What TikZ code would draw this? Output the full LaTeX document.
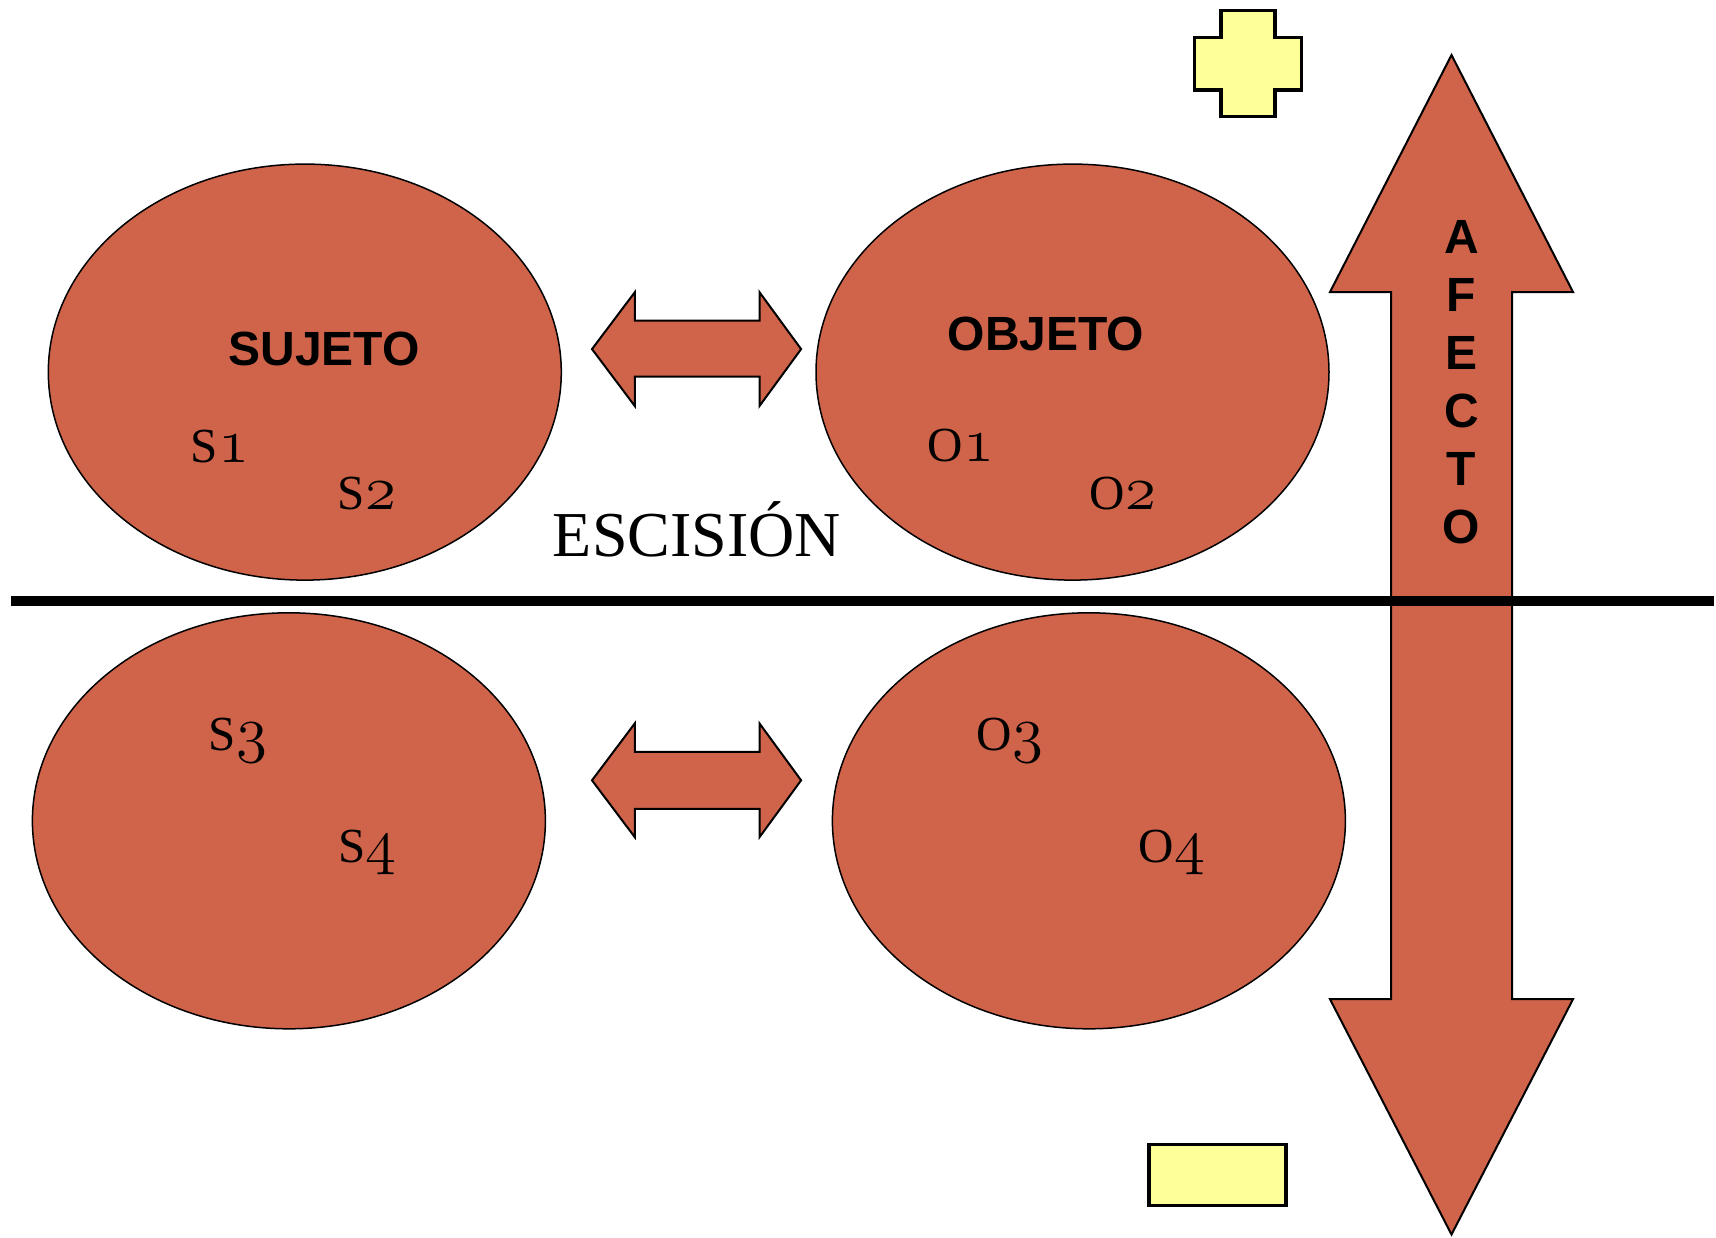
\documentclass[tikz,border=0pt]{standalone}
\usepackage{fontspec}
\setmainfont{Liberation Serif}
\newfontfamily\headfont{Liberation Sans}
\usetikzlibrary{shapes.geometric}
\definecolor{clay}{RGB}{208,100,74}
\definecolor{paleyellow}{RGB}{255,255,153}
% old-style figures of the Computer Modern math italic font
\font\osfdigits=cmmi12 at 63pt
\newcommand\osfig[1]{{\osfdigits #1}}
\tikzset{
  blob/.style={ellipse, draw=black, line width=1.5pt, fill=clay, inner sep=0pt,
               minimum width=513pt, minimum height=416pt},
  blockarrow/.style={draw=black, line width=2pt, fill=clay, line join=miter},
  signbox/.style={draw=black, line width=3.5pt, fill=paleyellow, line join=miter},
  title/.style={font=\headfont\bfseries\fontsize{48}{50}\selectfont, anchor=base, inner sep=0pt},
  tag/.style={font=\rmfamily\fontsize{49}{51}\selectfont, anchor=base, inner sep=0pt},
  letter/.style={font=\headfont\bfseries\fontsize{48}{50}\selectfont, anchor=base, inner sep=0pt},
}
\begin{document}
\begin{tikzpicture}[x=1pt, y=-1pt]
\useasboundingbox (0,0) rectangle (1716,1237);

% the four ellipses
\node[blob] (suj) at (304.8,372.1) {};
\node[blob] (obj) at (1072.5,372.1) {};
\node[blob] (sujb) at (288.9,820.8) {};
\node[blob] (objb) at (1088.9,820.8) {};

% double block arrows between subject and object
\draw[blockarrow] (592,349.1) -- (634.8,292.2) -- (634.8,320.7) -- (759.5,320.7)
  -- (759.5,292.2) -- (801.1,349.1) -- (759.5,406) -- (759.5,376.5)
  -- (634.8,376.5) -- (634.8,406) -- cycle;
\draw[blockarrow] (592,780.3) -- (634.8,723.4) -- (634.8,751.9) -- (759.5,751.9)
  -- (759.5,723.4) -- (801.1,780.3) -- (759.5,837.2) -- (759.5,808.8)
  -- (634.8,808.8) -- (634.8,837.2) -- cycle;

% vertical double block arrow
\draw[blockarrow] (1451.5,55) -- (1573,292) -- (1512,292) -- (1512,999.2)
  -- (1573,999.2) -- (1451.5,1234.5) -- (1330,999.2) -- (1391,999.2)
  -- (1391,292) -- (1330,292) -- cycle;

% splitting line
\coordinate (cutL) at (10.5,600.5);
\coordinate (cutR) at (1714,600.5);
\draw[line width=10pt] (cutL) -- (cutR);

% plus and minus signs
\draw[signbox] (1221,10.7) -- (1275,10.7) -- (1275,37.3) -- (1301.7,37.3)
  -- (1301.7,90) -- (1275,90) -- (1275,116.7) -- (1221,116.7) -- (1221,90)
  -- (1194.3,90) -- (1194.3,37.3) -- (1221,37.3) -- cycle;
\draw[signbox] (1149,1144.7) rectangle (1286,1205.7);

% labels
\node[title] (tsuj) at (324,365) {SUJETO};
\node[title] (tobj) at (1046,350) {OBJETO};
\node[tag] (s1) at (220,462) {S\osfig{1}};
\node[tag] (s2) at (367,509) {S\osfig{2}};
\node[tag] (o1) at (961,461) {O\osfig{1}};
\node[tag] (o2) at (1123,509) {O\osfig{2}};
\node[tag] (s3) at (238,750) {S\osfig{3}};
\node[tag] (s4) at (367.5,862) {S\osfig{4}};
\node[tag] (o3) at (1010,750) {O\osfig{3}};
\node[tag] (o4) at (1172,862) {O\osfig{4}};
\node[font=\rmfamily\fontsize{64}{66}\selectfont, anchor=base, inner sep=0pt] (esc) at (697,556) {ESCISIÓN};

\foreach \ch [count=\i] in {A,F,E,C,T,O}
  \node[letter] (af\i) at (1461.5,{253+58*(\i-1)}) {\ch};
\end{tikzpicture}
\end{document}
